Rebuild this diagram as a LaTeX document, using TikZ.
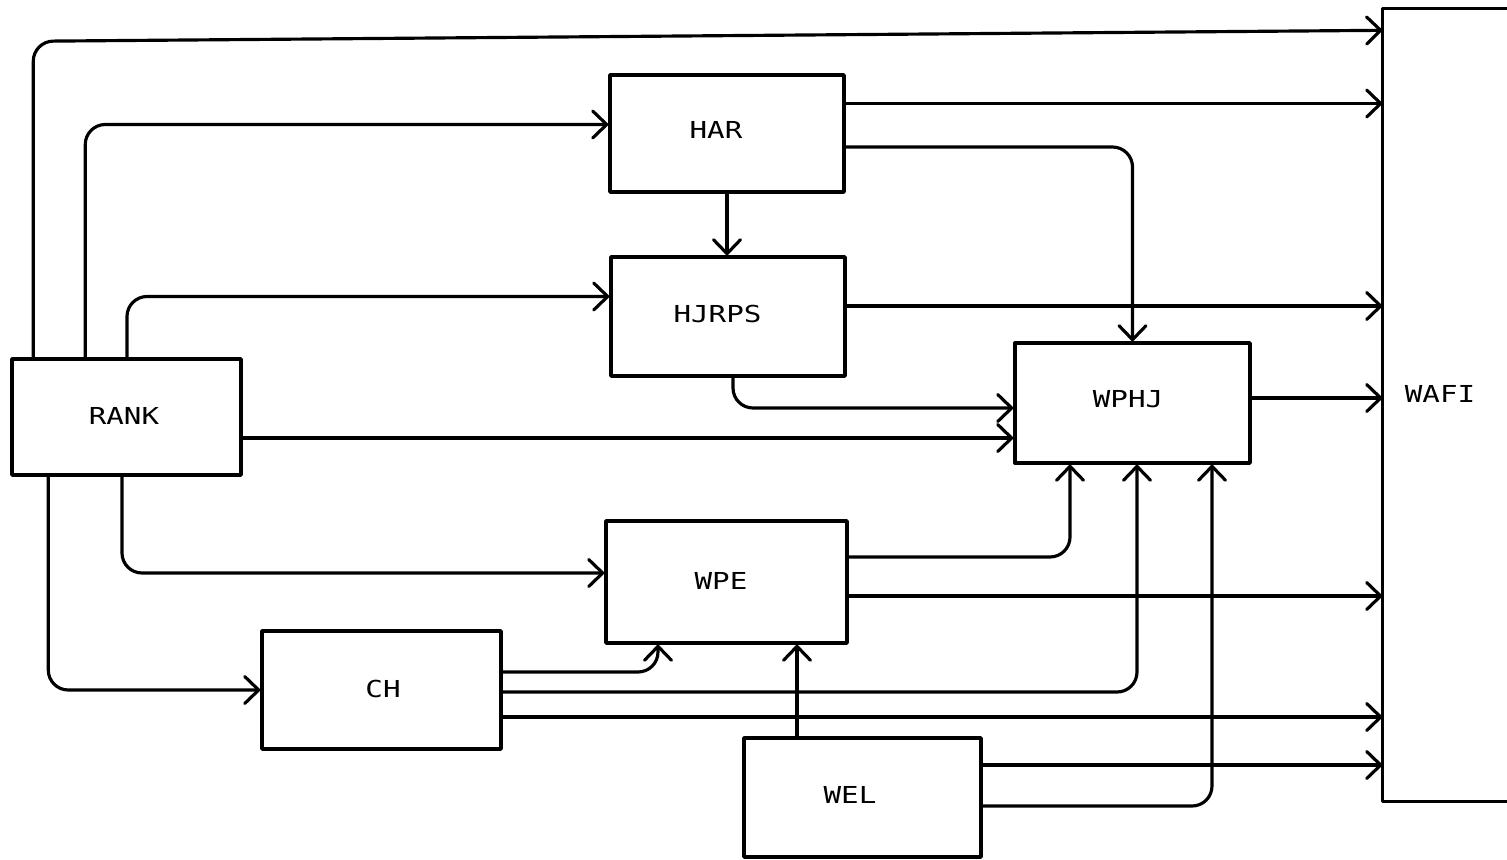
\documentclass[tikz,border=0pt]{standalone}
\usepackage{fontspec}
\newfontfamily\plotfont[FakeStretch=1.25]{DejaVu Sans Mono}
\usetikzlibrary{arrows.meta,calc}
\begin{document}
\begin{tikzpicture}[x=0.02cm,y=-0.02cm,line cap=round,line join=round,
  box/.style={draw,line width=2pt,inner sep=0pt},
  lbl/.style={inner sep=0pt,font=\plotfont\fontsize{13.3pt}{16pt}\selectfont},
  conn/.style={line width=1.8pt,rounded corners=0.4cm,-{Straight Barb[length=2.8mm,width=5.4mm,line width=1.8pt,round]}}
]
\useasboundingbox (0,0) rectangle (1507,859);

% boxes
\node[box,minimum width=4.68cm,minimum height=2.34cm] (har)   at (727,133.5) {};
\node[box,minimum width=4.68cm,minimum height=2.38cm] (hjrps) at (728,316.5) {};
\node[box,minimum width=4.70cm,minimum height=2.40cm] (wphj)  at (1132.5,403) {};
\node[box,minimum width=4.58cm,minimum height=2.32cm] (rank)  at (126.5,417) {};
\node[box,minimum width=4.82cm,minimum height=2.44cm] (wpe)   at (726.5,582) {};
\node[box,minimum width=4.78cm,minimum height=2.36cm] (ch)    at (381.5,690) {};
\node[box,minimum width=4.74cm,minimum height=2.38cm] (wel)   at (862.5,797.5) {};
\node[box,draw=none,minimum width=2.24cm,minimum height=15.8cm] (wafi) at (1440,405) {};
\draw[line width=2pt] ($(wafi.north east)+(40,0)$) -- (wafi.north west) -- (wafi.south west) -- ($(wafi.south east)+(40,0)$);

% labels
\node[lbl] (har-t)   at (716,130)   {HAR};
\node[lbl] (hjrps-t) at (717.5,314) {HJRPS};
\node[lbl] (wphj-t)  at (1128,399)  {WPHJ};
\node[lbl] (rank-t)  at (124,416)   {RANK};
\node[lbl] (wpe-t)   at (721,581)   {WPE};
\node[lbl] (ch-t)    at (383,689)   {CH};
\node[lbl] (wel-t)   at (850,795)   {WEL};
\node[lbl] (wafi-t)  at (1440,394)  {WAFI};

% from RANK
\draw[conn] ($(rank.north west)+(23,0)$) -- ++(0,-316) -- ($(wafi.north west)+(0,22)$);
\draw[conn] ($(rank.north west)+(75,0)$) |- ($(har.west)+(0,-9)$);
\draw[conn] ($(rank.north)+(0.5,0)$) |- ($(hjrps.west)+(0,-20)$);
\draw[conn] ($(rank.east)+(0,21)$) -- ($(wphj.west)+(0,35)$);
\draw[conn] ($(rank.south)+(-4.5,0)$) |- ($(wpe.west)+(0,-9)$);
\draw[conn] ($(rank.south west)+(38,0)$) |- (ch.west);

% from HAR
\draw[conn] ($(har.east)+(0,-30)$) coordinate (h1) -- (h1 -| wafi.west);
\draw[conn] ($(har.east)+(0,13.5)$) -| (wphj.north);
\draw[conn] (har.south) -- (har.south |- hjrps.north);

% from HJRPS
\draw[conn] ($(hjrps.east)+(0,-10.5)$) coordinate (j1) -- (j1 -| wafi.west);
\draw[conn] ($(hjrps.south)+(5,0)$) |- ($(wphj.west)+(0,5)$);

% from WPHJ
\draw[conn] ($(wphj.east)+(0,-5)$) coordinate (p1) -- (p1 -| wafi.west);

% from WPE
\draw[conn] ($(wpe.east)+(0,-25)$) -| ($(wphj.south)+(-62.5,0)$);
\draw[conn] ($(wpe.east)+(0,14)$) coordinate (e1) -- (e1 -| wafi.west);

% from CH
\draw[conn] ($(ch.east)+(0,-18)$) -| ($(wpe.south)+(-68.5,0)$);
\draw[conn] ($(ch.east)+(0,2)$) -| ($(wphj.south)+(4.5,0)$);
\draw[conn] ($(ch.east)+(0,27)$) coordinate (c1) -- (c1 -| wafi.west);

% from WEL
\draw[conn] ($(wel.north)+(-65.5,0)$) coordinate (w0) -- (w0 |- wpe.south);
\draw[conn] ($(wel.east)+(0,-32.5)$) coordinate (w1) -- (w1 -| wafi.west);
\draw[conn] ($(wel.east)+(0,8.5)$) -| ($(wphj.south)+(79.5,0)$);
\end{tikzpicture}
\end{document}
